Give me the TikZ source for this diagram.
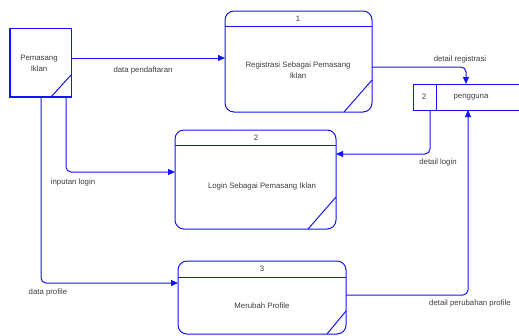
\documentclass[tikz,border=0pt]{standalone}
\usepackage{fontspec}
\setmainfont{Liberation Sans}
\usetikzlibrary{arrows.meta}
\definecolor{dfdblue}{RGB}{20,20,250}
\definecolor{txt}{RGB}{60,60,60}
\tikzset{
  ln/.style={draw=dfdblue, line width=1pt},
  flow/.style={ln, rounded corners=5pt, -{Triangle[length=7pt,width=6pt]}},
  lbl/.style={font=\fontsize{7.8}{9}\selectfont, text=txt, inner sep=0pt},
  proc/.style={ln, rounded corners=9pt},
}
\begin{document}
\begin{tikzpicture}[x=1pt,y=-1pt]
\useasboundingbox (0,0) rectangle (519,335);
% external entity
\draw[ln] (10,28) rectangle (71,97);
\draw[dfdblue, line width=1.3pt] (10,28) -- (10,97) -- (71,97);
\draw[ln] (51,97) -- (71,75);
\node[lbl, align=center] (ent) at (39,63.5) {Pemasang\\[2pt]Iklan};
\coordinate (entR) at (71,58);
\coordinate (entB1) at (66,97);
\coordinate (entB2) at (41,97);
% process 1
\draw[proc] (225,11) rectangle (372,112);
\draw[ln] (225,26) -- (372,26);
\draw[ln] (344,112) -- (372,80);
\node[lbl] (p1n) at (298,18.5) {1};
\node[lbl, align=center] (p1) at (298,70) {Registrasi Sebagai Pemasang\\[2pt]Iklan};
% process 2
\draw[proc] (175,130) rectangle (336,229);
\draw[ln] (175,145) -- (336,145);
\draw[ln] (308,229) -- (336,197);
\node[lbl] (p2n) at (256,138) {2};
\node[lbl] (p2) at (262,186) {Login Sebagai Pemasang Iklan};
% process 3
\draw[proc] (178,261) rectangle (346,334);
\draw[ln] (178,277) -- (346,277);
\draw[ln] (327,334) -- (346,311);
\node[lbl] (p3n) at (262,269) {3};
\node[lbl] (p3) at (262,306) {Merubah Profile};
% data store
\draw[ln] (519,84) -- (413,84) -- (413,110) -- (519,110);
\draw[ln] (436,84) -- (436,110);
\node[lbl] (dsn) at (424,97) {2};
\node[lbl] (ds) at (471,97) {pengguna};
% flows
\draw[flow] (entR) -- (225,58);
\node[lbl] (l1) at (143,70) {data pendaftaran};
\draw[flow] (372,67) -- (466,67) -- (466,84);
\node[lbl] (l2) at (460,59) {detail registrasi};
\draw[flow] (430,110) -- (430,154) -- (336,154);
\node[lbl] (l3) at (438,162) {detail login};
\draw[flow] (346,295) -- (468,295) -- (468,110);
\node[lbl, anchor=west] (l4) at (429,303) {detail perubahan profile};
\draw[flow] (entB1) -- (66,172) -- (175,172);
\node[lbl] (l5) at (73,182) {inputan login};
\draw[flow] (entB2) -- (41,283) -- (178,283);
\node[lbl] (l6) at (48,292) {data profile};
\end{tikzpicture}
\end{document}
